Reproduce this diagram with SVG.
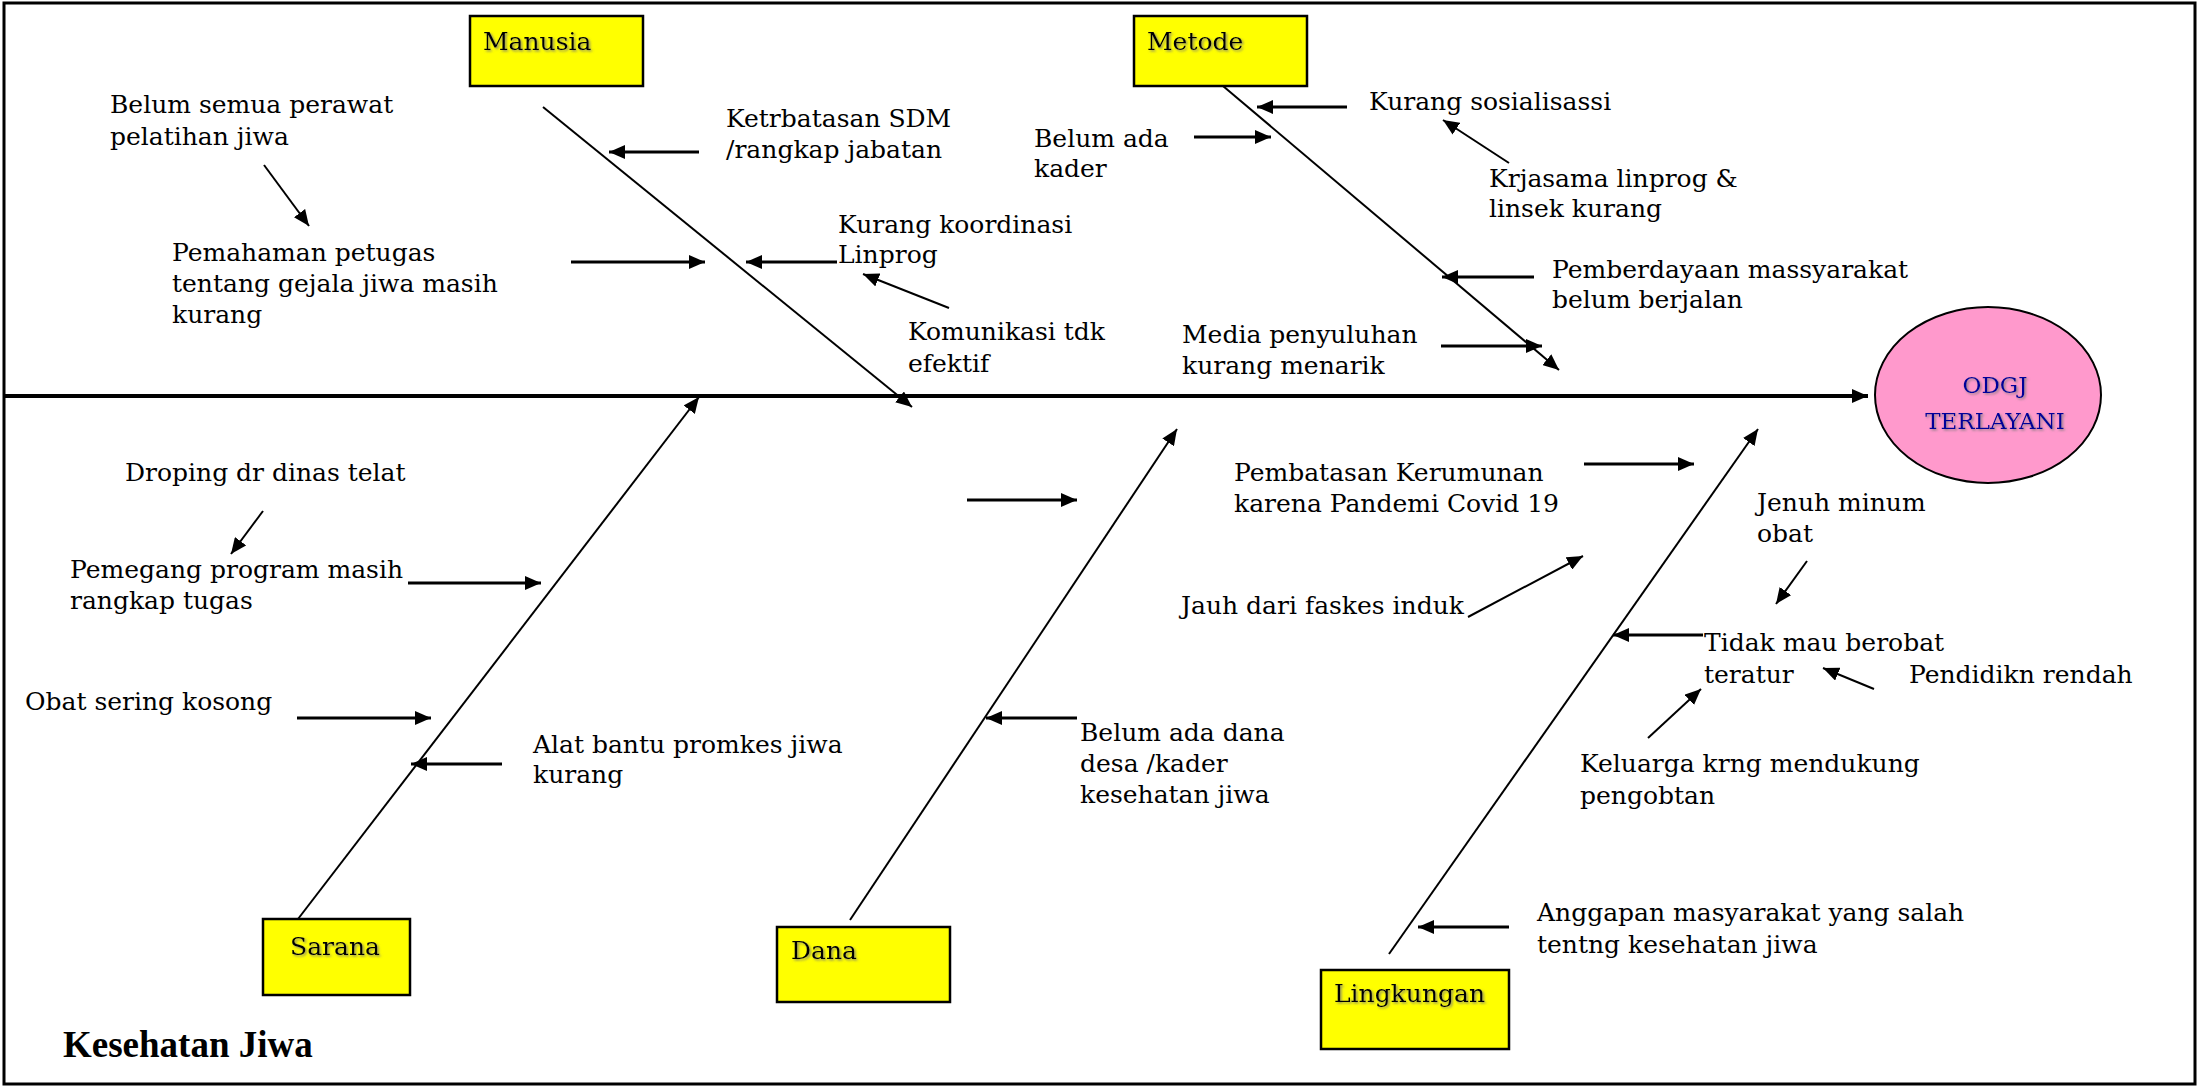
<svg xmlns="http://www.w3.org/2000/svg" width="2198" height="1087" viewBox="0 0 2198 1087">
<defs>
<marker id="ah" markerUnits="userSpaceOnUse" markerWidth="17" markerHeight="14" refX="16" refY="7" orient="auto"><path d="M0,0 L16,7 L0,14 z" fill="#000"/></marker>
<filter id="sh" x="-10%" y="-20%" width="130%" height="150%"><feDropShadow dx="1.5" dy="1.5" stdDeviation="0.8" flood-color="#777" flood-opacity="0.8"/></filter>
</defs>
<style>
.t{font-family:"DejaVu Serif","Liberation Serif",serif;font-size:25px;fill:#000}
.cat{fill:#ffff00;stroke:#000;stroke-width:2.5}
.lbl{font-family:"DejaVu Serif","Liberation Serif",serif;font-size:25px;fill:#000;filter:url(#sh)}
.ov{font-family:"DejaVu Serif","Liberation Serif",serif;font-size:23px;fill:#000099;filter:url(#sh)}
.bone{stroke:#000;stroke-width:2;fill:none;marker-end:url(#ah)}
.arr{stroke:#000;stroke-width:3;fill:none;marker-end:url(#ah)}
.thin{stroke:#000;stroke-width:2;fill:none;marker-end:url(#ah)}
</style>
<rect x="4" y="3" width="2191" height="1081" fill="#fff" stroke="#000" stroke-width="3"/>

<g id="connectors">
<line x1="4" y1="396" x2="1868" y2="396" stroke="#000" stroke-width="4" marker-end="url(#ah)"/>
<line class="bone" x1="543" y1="107" x2="912" y2="407"/>
<line class="bone" x1="1223" y1="86" x2="1559" y2="370"/>
<line class="bone" x1="298" y1="919" x2="699" y2="397"/>
<line class="bone" x1="850" y1="920" x2="1177" y2="429"/>
<line class="bone" x1="1389" y1="954" x2="1758" y2="429"/>
<line class="thin" x1="264" y1="165" x2="309" y2="226"/>
<line class="arr" x1="699" y1="152" x2="609" y2="152"/>
<line class="arr" x1="571" y1="262" x2="705" y2="262"/>
<line class="arr" x1="837" y1="262" x2="746" y2="262"/>
<line class="thin" x1="949" y1="308" x2="863" y2="274"/>
<line class="arr" x1="1347" y1="107" x2="1257" y2="107"/>
<line class="arr" x1="1194" y1="137" x2="1271" y2="137"/>
<line class="thin" x1="1509" y1="163" x2="1443" y2="120"/>
<line class="arr" x1="1534" y1="277" x2="1442" y2="277"/>
<line class="arr" x1="1441" y1="346" x2="1542" y2="346"/>
<line class="thin" x1="263" y1="511" x2="231" y2="554"/>
<line class="arr" x1="408" y1="583" x2="541" y2="583"/>
<line class="arr" x1="297" y1="718" x2="431" y2="718"/>
<line class="arr" x1="502" y1="764" x2="411" y2="764"/>
<line class="arr" x1="967" y1="500" x2="1077" y2="500"/>
<line class="arr" x1="1077" y1="718" x2="986" y2="718"/>
<line class="arr" x1="1584" y1="464" x2="1694" y2="464"/>
<line class="thin" x1="1468" y1="617" x2="1583" y2="556"/>
<line class="thin" x1="1807" y1="561" x2="1776" y2="604"/>
<line class="arr" x1="1703" y1="635" x2="1613" y2="635"/>
<line class="thin" x1="1874" y1="689" x2="1823" y2="668"/>
<line class="thin" x1="1648" y1="738" x2="1701" y2="689"/>
<line class="arr" x1="1509" y1="927" x2="1418" y2="927"/>
</g>

<g id="manusia"><rect class="cat" x="470" y="16" width="173" height="70"/><text class="lbl" x="483" y="50">Manusia</text></g>
<g id="metode"><rect class="cat" x="1134" y="16" width="173" height="70"/><text class="lbl" x="1147" y="50">Metode</text></g>
<g id="sarana"><rect class="cat" x="263" y="919" width="147" height="76"/><text class="lbl" x="290" y="955">Sarana</text></g>
<g id="dana"><rect class="cat" x="777" y="927" width="173" height="75"/><text class="lbl" x="791" y="959">Dana</text></g>
<g id="lingkungan"><rect class="cat" x="1321" y="970" width="188" height="79"/><text class="lbl" x="1334" y="1002">Lingkungan</text></g>

<g id="odgj">
<ellipse cx="1988" cy="395" rx="113" ry="88" fill="#ff99cc" stroke="#000" stroke-width="2"/>
<text class="ov" x="1995" y="393" text-anchor="middle">ODGJ</text>
<text class="ov" x="1995" y="429" text-anchor="middle">TERLAYANI</text>
</g>

<g id="c1"><text class="t"><tspan x="110" y="113">Belum semua perawat</tspan><tspan x="110" y="145">pelatihan jiwa</tspan></text></g>
<g id="c2"><text class="t"><tspan x="172" y="261">Pemahaman petugas</tspan><tspan x="172" y="292">tentang gejala jiwa masih</tspan><tspan x="172" y="323">kurang</tspan></text></g>
<g id="c3"><text class="t"><tspan x="726" y="127">Ketrbatasan SDM</tspan><tspan x="726" y="158">/rangkap jabatan</tspan></text></g>
<g id="c4"><text class="t"><tspan x="838" y="233">Kurang koordinasi</tspan><tspan x="838" y="263">Linprog</tspan></text></g>
<g id="c5"><text class="t"><tspan x="908" y="340">Komunikasi tdk</tspan><tspan x="908" y="372">efektif</tspan></text></g>
<g id="c6"><text class="t" x="1369" y="110">Kurang sosialisassi</text></g>
<g id="c7"><text class="t"><tspan x="1034" y="147">Belum ada</tspan><tspan x="1034" y="177">kader</tspan></text></g>
<g id="c8"><text class="t"><tspan x="1489" y="187">Krjasama linprog &amp;</tspan><tspan x="1489" y="217">linsek kurang</tspan></text></g>
<g id="c9"><text class="t"><tspan x="1552" y="278">Pemberdayaan massyarakat</tspan><tspan x="1552" y="308">belum berjalan</tspan></text></g>
<g id="c10"><text class="t"><tspan x="1182" y="343">Media penyuluhan</tspan><tspan x="1182" y="374">kurang menarik</tspan></text></g>
<g id="c11"><text class="t" x="125" y="481">Droping dr dinas telat</text></g>
<g id="c12"><text class="t"><tspan x="70" y="578">Pemegang program masih</tspan><tspan x="70" y="609">rangkap tugas</tspan></text></g>
<g id="c13"><text class="t" x="25" y="710">Obat sering kosong</text></g>
<g id="c14"><text class="t"><tspan x="533" y="753">Alat bantu promkes jiwa</tspan><tspan x="533" y="783">kurang</tspan></text></g>
<g id="c15"><text class="t"><tspan x="1080" y="741">Belum ada dana</tspan><tspan x="1080" y="772">desa /kader</tspan><tspan x="1080" y="803">kesehatan jiwa</tspan></text></g>
<g id="c16"><text class="t"><tspan x="1234" y="481">Pembatasan Kerumunan</tspan><tspan x="1234" y="512">karena Pandemi Covid 19</tspan></text></g>
<g id="c17"><text class="t" x="1181" y="614">Jauh dari faskes induk</text></g>
<g id="c18"><text class="t"><tspan x="1757" y="511">Jenuh minum</tspan><tspan x="1757" y="542">obat</tspan></text></g>
<g id="c19"><text class="t"><tspan x="1704" y="651">Tidak mau berobat</tspan><tspan x="1704" y="683">teratur</tspan></text></g>
<g id="c20"><text class="t" x="1909" y="683">Pendidikn rendah</text></g>
<g id="c21"><text class="t"><tspan x="1580" y="772">Keluarga krng mendukung</tspan><tspan x="1580" y="804">pengobtan</tspan></text></g>
<g id="c22"><text class="t"><tspan x="1537" y="921">Anggapan masyarakat yang salah</tspan><tspan x="1537" y="953">tentng kesehatan jiwa</tspan></text></g>
<g id="title"><text x="63" y="1057" style="font-family:'Liberation Serif','DejaVu Serif',serif;font-size:37px;font-weight:bold;fill:#000">Kesehatan Jiwa</text></g>
</svg>
